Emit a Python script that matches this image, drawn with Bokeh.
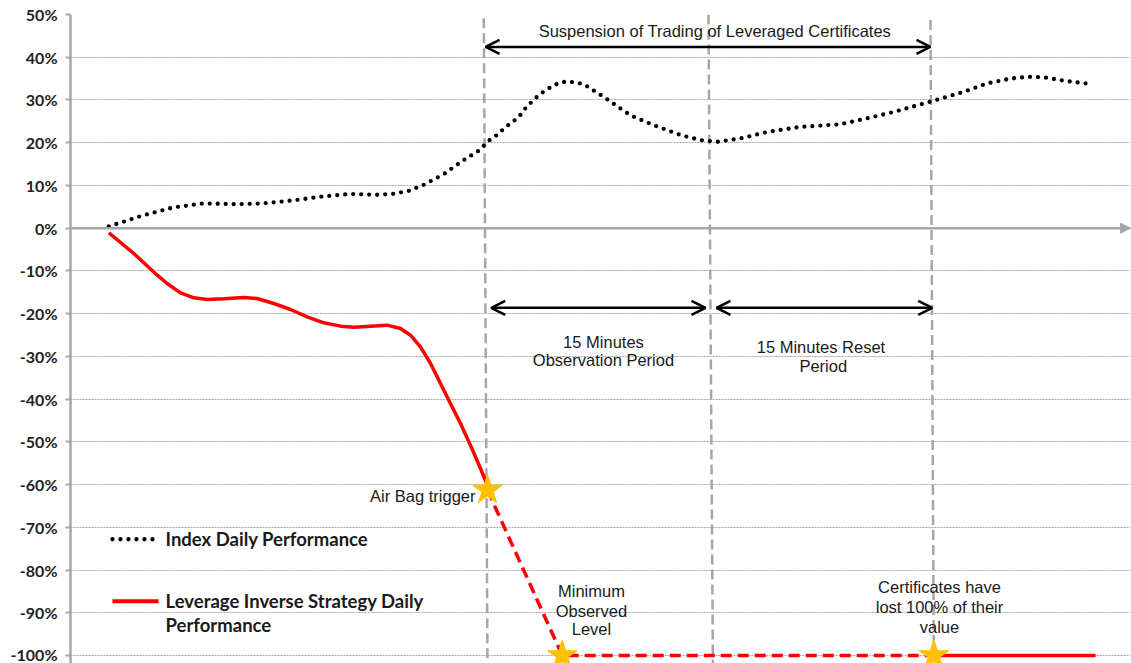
from bokeh.plotting import figure
from bokeh.models import Range1d, FixedTicker, Arrow, OpenHead, NormalHead
from bokeh.core.properties import value
from bokeh.embed import file_html
from bokeh.resources import INLINE

# ---- data (x: minutes relative to Air Bag trigger, y: performance in %) ----
index_t = [-25.54, -23.40, -21.26, -19.15, -16.88, -15.19, -13.08, -11.40, -9.24, -7.55,
           -6.43, -5.33, -4.32, -2.97, -1.62, -0.61, 0.20, 0.69, 1.10, 2.11, 2.63, 3.51,
           4.47, 5.37, 6.49, 7.84, 9.64, 11.21, 13.01, 14.36, 15.49, 17.06, 18.86, 21.11,
           23.80, 25.60, 27.40, 29.87, 32.12, 33.70, 35.27, 36.39, 37.51, 39.09, 40.78]
index_v = [0.4, 2.8, 4.8, 5.8, 5.6, 5.8, 6.5, 7.3, 8.0, 7.8,
           8.0, 8.7, 10.1, 12.6, 15.9, 18.1, 20.8, 21.9, 23.3, 26.0, 28.4, 31.3,
           33.5, 34.4, 33.7, 30.7, 26.4, 24.1, 21.8, 20.6, 20.2, 21.0, 22.5, 23.7,
           24.3, 25.7, 27.2, 29.6, 31.9, 33.9, 35.0, 35.4, 35.3, 34.4, 33.7]

strategy_t = [-25.53, -23.85, -22.27, -21.60, -20.70, -19.80, -18.90, -17.78, -16.43, -15.53,
              -14.41, -13.28, -12.16, -11.04, -9.91, -9.01, -7.89, -6.77, -5.87, -5.19,
              -4.52, -3.84, -3.17, -2.50, -1.82, -1.15, -0.47, -0.02, 0.0]
strategy_v = [-1.09, -5.93, -11.00, -12.95, -15.13, -16.30, -16.69, -16.54, -16.22, -16.46,
              -17.63, -19.03, -20.75, -22.15, -22.93, -23.17, -22.93, -22.70, -23.48, -25.04,
              -27.77, -31.67, -36.35, -41.03, -45.71, -50.78, -56.24, -60.14, -61.3]

suspended_t = [0.0, 5.04, 30.1]
suspended_v = [-61.3, -100.0, -100.0]
final_t = [30.1, 41.0]
final_v = [-100.0, -100.0]

star_t = [0.0, 5.04, 30.1]
star_v = [-61.3, -100.0, -100.0]

event_top_t = [-0.25, 14.9, 29.87]
event_bottom_t = [0.0, 15.2, 30.1]
event_top_v = [49.1, 50.0, 48.7]

y_ticks = list(range(-100, 60, 10))
y_tick_labels = [f"{v}%" for v in y_ticks]

X0, X1 = -28.12, 43.36
Y0, Y1 = -101.87, 50.0

p = figure(width=1131, height=663, x_range=Range1d(X0, X1), y_range=Range1d(Y0, Y1),
           output_backend="svg", toolbar_location=None, x_axis_location=None,
           min_border_left=70, min_border_right=1, min_border_top=14, min_border_bottom=0)
p.outline_line_color = None
p.background_fill_color = "white"
p.border_fill_color = "white"

# y axis
p.yaxis.ticker = FixedTicker(ticks=y_ticks)
p.yaxis.major_label_overrides = {v: lab for v, lab in zip(y_ticks, y_tick_labels)}
p.yaxis.axis_line_color = "#a6a6a6"
p.yaxis.axis_line_width = 2.5
p.yaxis.major_tick_line_color = "#a6a6a6"
p.yaxis.major_tick_line_width = 2
p.yaxis.major_tick_out = 5
p.yaxis.major_tick_in = 0
p.yaxis.minor_tick_line_color = None
p.yaxis.major_label_standoff = 8
p.yaxis.major_label_text_font = "Lato"
p.yaxis.major_label_text_font_style = "bold"
p.yaxis.major_label_text_font_size = "16px"
p.yaxis.major_label_text_color = "#222222"

# grid
p.xgrid.visible = False
p.ygrid.ticker = FixedTicker(ticks=y_ticks)
p.ygrid.grid_line_color = "#a6a6a6"
p.ygrid.grid_line_width = 1
p.ygrid.grid_line_dash = "2 1"

# x axis line with arrow
p.add_layout(Arrow(x_start=X0, y_start=0, x_end=X1, y_end=0,
                   line_color="#a6a6a6", line_width=2.5,
                   end=NormalHead(size=10, fill_color="#a6a6a6", line_color="#a6a6a6")))

# event vertical dashed lines
p.segment(x0=event_top_t, y0=event_top_v, x1=event_bottom_t, y1=[Y0] * 3,
          line_color="#a6a6a6", line_width=2.5, line_dash="10 5")

# index line (dotted)
p.line(index_t, index_v, line_color="black", line_width=4.3, line_dash="0 8", line_cap="round",
       line_join="round")

# strategy lines
p.line(strategy_t, strategy_v, line_color="#FF0000", line_width=3.5, line_join="round")
p.line(suspended_t, suspended_v, line_color="#FF0000", line_width=3.5, line_dash="11 6")
p.line(final_t, final_v, line_color="#FF0000", line_width=3.5)

# stars
p.scatter(star_t, star_v, marker="star", size=31, fill_color="#FFC000", line_color="#FFC000")

# arrows
def dbl_arrow(xs, xe, y):
    p.add_layout(Arrow(x_start=xs, y_start=y, x_end=xe, y_end=y, line_color="black", line_width=2.5,
                       start=OpenHead(size=14, line_width=2.5, line_color="black"),
                       end=OpenHead(size=14, line_width=2.5, line_color="black")))

dbl_arrow(-0.13, 29.87, 42.4)
dbl_arrow(0.25, 14.70, -18.65)
dbl_arrow(15.44, 29.99, -18.65)

AF = value("Liberation Sans")
p.text(x=[15.49, 7.82, 7.82, 22.64, 22.64, 7.01, 7.01, 7.01, 30.48, 30.48, 30.48],
       y=[46.1, -26.6, -30.9, -27.9, -32.3, -84.9, -89.6, -93.9, -84.0, -88.7, -93.4],
       text=["Suspension of  Trading of Leveraged Certificates", "15 Minutes", "Observation Period",
             "15  Minutes Reset", "Period", "Minimum", "Observed", "Level",
             "Certificates have", "lost 100% of their", "value"],
       text_font=AF, text_font_size="16.5px", text_align="center", text_baseline="middle",
       text_color="#1a1a1a")
p.text(x=[-0.81], y=[-62.6], text=["Air Bag trigger"], text_font=AF, text_font_size="16.5px",
       text_align="right", text_baseline="middle", text_color="#1a1a1a")

# legend (drawn manually)
p.line([-25.29, -22.39], [-72.8, -72.8], line_color="black", line_width=4.3, line_dash="0 8",
       line_cap="round")
p.line([-25.29, -22.18], [-87.3, -87.3], line_color="#FF0000", line_width=4)
p.text(x=[-21.71, -21.71, -21.71], y=[-72.8, -87.3, -92.9],
       text=["Index Daily Performance", "Leverage Inverse Strategy Daily", "Performance"],
       text_font=value("Lato"), text_font_style="bold", text_font_size="18.5px",
       text_align="left", text_baseline="middle", text_color="#1a1a1a")

open("out.html", "w").write(file_html(p, INLINE))
